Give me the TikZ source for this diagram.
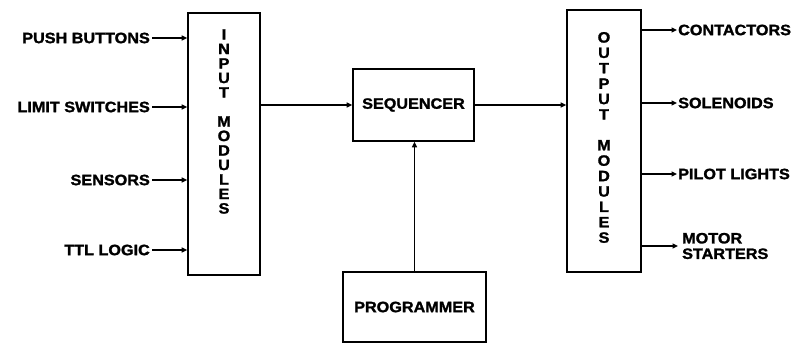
\documentclass[tikz,border=0pt]{standalone}
\usepackage{fontspec}
\newfontfamily\heavy{Liberation Sans}[FakeStretch=1.08,BoldFeatures={FakeBold=1.6}]
\usetikzlibrary{arrows.meta}

\tikzset{
  lbl/.style={font=\heavy\bfseries\fontsize{15}{15.5}\selectfont, inner sep=0pt},
  vlbl/.style={font=\heavy\bfseries\fontsize{15}{#1}\selectfont, inner sep=0pt, align=center},
  block/.style={draw, line width=1.7pt, inner sep=0pt},
  sig/.style={line width=1.4pt, -{Triangle[length=5.5pt,width=5pt]}}
}

\begin{document}
\begin{tikzpicture}[x=1pt,y=-1pt]
\useasboundingbox (0,0) rectangle (806,345);

% module blocks
\node[block, minimum width=72pt, minimum height=262pt] (inbox) at (224,144) {};
\node[block, minimum width=74pt, minimum height=262pt] (outbox) at (604,141) {};
\node[block, minimum width=121pt, minimum height=72pt, lbl] (seq) at (413.5,105) {SEQUENCER};
\node[block, minimum width=143pt, minimum height=70pt, lbl] (prog) at (414.5,307) {PROGRAMMER};

% stacked letters
\node[vlbl=14.5pt] (intext) at (224,121.5) {I\\N\\P\\U\\T\\ \\M\\O\\D\\U\\L\\E\\S};
\node[vlbl=15.4pt] (outtext) at (604,137.5) {O\\U\\T\\P\\U\\T\\ \\M\\O\\D\\U\\L\\E\\S};

% inputs
\node[lbl, anchor=east] (pb) at (150,38) {PUSH BUTTONS};
\node[lbl, anchor=east] (ls) at (150,107) {LIMIT SWITCHES};
\node[lbl, anchor=east] (sn) at (150,180) {SENSORS};
\node[lbl, anchor=east] (ttl) at (150,250) {TTL LOGIC};

% outputs
\node[lbl, anchor=west] (con) at (678,30) {CONTACTORS};
\node[lbl, anchor=west] (sol) at (678,103) {SOLENOIDS};
\node[lbl, anchor=west] (pil) at (678,174) {PILOT LIGHTS};
\node[lbl, anchor=west, align=left] (mot) at (682,246) {MOTOR\\STARTERS};

\foreach \n in {pb,ls,sn,ttl}
  \draw[sig] ([xshift=2pt]\n.east) -- (\n.east -| inbox.west);
\foreach \n in {con,sol,pil}
  \draw[sig] (\n.west -| outbox.east) -- ([xshift=-1pt]\n.west);
\draw[sig] (mot.west -| outbox.east) -- ([xshift=-4pt]mot.west);

\draw[sig] (inbox.east |- seq.west) -- (seq.west);
\draw[sig] (seq.east) -- (seq.east -| outbox.west);
\draw[sig] (prog.north) -- (prog.north |- seq.south);
\end{tikzpicture}
\end{document}
